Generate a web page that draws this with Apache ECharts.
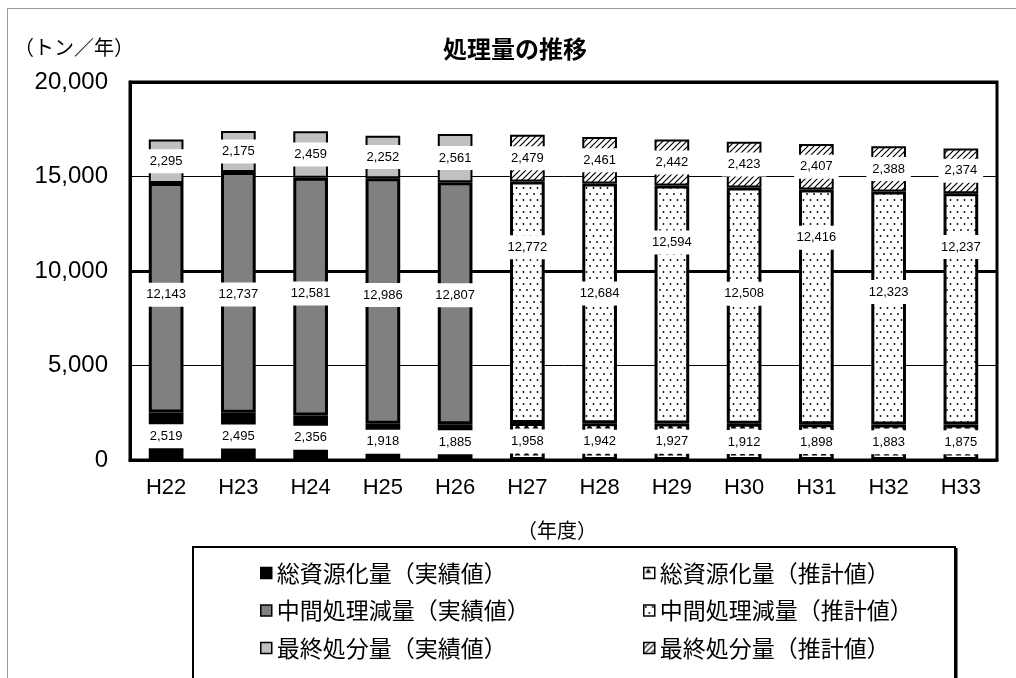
<!DOCTYPE html>
<html>
<head>
<meta charset="utf-8">
<script src="https://cdn.jsdelivr.net/npm/echarts@6/dist/echarts.min.js"></script>
<style>
  html, body { margin: 0; padding: 0; background: #fff; }
  #chart { width: 1016px; height: 678px; }
</style>
</head>
<body>
<div id="chart"></div>
<script>
// Fiscal years (Heisei); H22–H26 are actual results, H27 onward are estimates
const years = ['H22', 'H23', 'H24', 'H25', 'H26', 'H27', 'H28', 'H29', 'H30', 'H31', 'H32', 'H33'];
const actualYearCount = 5;

// Amounts in tonnes per year
const recycling = [2519, 2495, 2356, 1918, 1885, 1958, 1942, 1927, 1912, 1898, 1883, 1875];       // 総資源化量
const reduction = [12143, 12737, 12581, 12986, 12807, 12772, 12684, 12594, 12508, 12416, 12323, 12237]; // 中間処理減量
const landfill = [2295, 2175, 2459, 2252, 2561, 2479, 2461, 2442, 2423, 2407, 2388, 2374];        // 最終処分量

const seriesNames = {
  recycling: ['総資源化量（実績値）', '総資源化量（推計値）'],
  reduction: ['中間処理減量（実績値）', '中間処理減量（推計値）'],
  landfill: ['最終処分量（実績値）', '最終処分量（推計値）']
};

// vertical nudges (px) for the 中間処理減量 labels so neighbouring labels stagger
const reductionLabelShift = [-3, 2, -3, -6, -8, -55, -10, -62, -12, -69, -16, -62];

const JP = '"Noto Sans CJK JP", sans-serif';
const NUM = '"Liberation Sans", Arial, sans-serif';

// small repeating fill tiles for the estimate bars
function tile(w, h, draw) {
  const c = document.createElement('canvas');
  c.width = w; c.height = h;
  const g = c.getContext('2d');
  g.fillStyle = '#fff';
  g.fillRect(0, 0, w, h);
  g.fillStyle = '#000';
  g.strokeStyle = '#000';
  draw(g);
  return { image: c, repeat: 'repeat' };
}
const triangleFill = tile(9, 9, g => {
  g.beginPath(); g.moveTo(4.5, 1); g.lineTo(1.5, 5.5); g.lineTo(7.5, 5.5); g.closePath(); g.fill();
});
const dotFill = tile(7, 12, g => {
  g.beginPath(); g.arc(2, 2, 0.9, 0, Math.PI * 2); g.fill();
  g.beginPath(); g.arc(5.5, 8, 0.9, 0, Math.PI * 2); g.fill();
});
const hatchFill = tile(6, 6, g => {
  g.lineWidth = 1.2;
  g.beginPath();
  g.moveTo(0, 6); g.lineTo(6, 0);
  g.moveTo(-1, 1); g.lineTo(1, -1);
  g.moveTo(5, 7); g.lineTo(7, 5);
  g.stroke();
});

const isActual = i => i < actualYearCount;
const pick = (arr, actual) => arr.map((v, i) => (isActual(i) === actual ? v : '-'));

const valueLabel = {
  show: true,
  position: 'inside',
  color: '#000',
  fontFamily: NUM,
  fontSize: 13,
  backgroundColor: '#fff',
  padding: [6, 6, 5, 6],
  formatter: p => Number(p.value).toLocaleString('en-US')
};

function barSeries(name, values, fill, borderWidth, shifts) {
  return {
    name: name,
    type: 'bar',
    stack: 'total',
    barWidth: '48%',
    itemStyle: { color: fill, borderColor: '#000', borderWidth: borderWidth },
    label: valueLabel,
    emphasis: { disabled: true },
    data: values.map((v, i) => shifts
      ? { value: v, label: { offset: [0, shifts[i]] } }
      : v)
  };
}

const series = [
  barSeries(seriesNames.recycling[0], pick(recycling, true), '#000000', 3),
  barSeries(seriesNames.recycling[1], pick(recycling, false), triangleFill, 3),
  barSeries(seriesNames.reduction[0], pick(reduction, true), '#808080', 3, reductionLabelShift),
  barSeries(seriesNames.reduction[1], pick(reduction, false), dotFill, 3, reductionLabelShift),
  barSeries(seriesNames.landfill[0], pick(landfill, true), '#c0c0c0', 2),
  barSeries(seriesNames.landfill[1], pick(landfill, false), hatchFill, 2)
];

const legendBase = {
  orient: 'vertical',
  top: 556,
  icon: 'rect',
  itemWidth: 11,
  itemHeight: 11,
  itemGap: 13.5,
  selectedMode: false,
  itemStyle: { borderColor: '#000', borderWidth: 1.5 },
  textStyle: { fontFamily: JP, fontSize: 23, lineHeight: 24, color: '#000' }
};

const chart = echarts.init(document.getElementById('chart'), null, { renderer: 'canvas' });
chart.setOption({
  animation: false,
  backgroundColor: '#fff',
  title: {
    text: '処理量の推移',
    left: 438,
    top: 32,
    textStyle: { fontFamily: JP, fontSize: 24, fontWeight: 'bold', color: '#000' }
  },
  grid: {
    left: 130, right: 19, top: 82, bottom: 218,
    show: true, borderColor: '#000', borderWidth: 3, backgroundColor: 'transparent'
  },
  xAxis: {
    type: 'category',
    data: years,
    axisLine: { lineStyle: { color: '#000', width: 3 } },
    axisTick: { inside: true, length: 6, lineStyle: { color: '#000', width: 2 } },
    axisLabel: { color: '#000', fontFamily: NUM, fontSize: 22, margin: 17 }
  },
  yAxis: [
    {
      type: 'value', min: 0, max: 20000, interval: 5000,
      axisLine: { show: true, lineStyle: { color: '#000', width: 3 } },
      axisTick: { show: false },
      axisLabel: {
        color: '#000', fontFamily: NUM, fontSize: 24, margin: 22,
        formatter: v => v.toLocaleString('en-US')
      },
      splitLine: { lineStyle: { color: '#000', width: 1 } }
    },
    {
      // heavier rule every 10,000 t
      type: 'value', min: 0, max: 20000, interval: 10000, position: 'left',
      axisLine: { show: false }, axisTick: { show: false }, axisLabel: { show: false },
      splitLine: { lineStyle: { color: '#000', width: 3 } }
    }
  ],
  legend: [
    Object.assign({}, legendBase, {
      left: 255,
      data: [seriesNames.recycling[0], seriesNames.reduction[0], seriesNames.landfill[0]]
    }),
    Object.assign({}, legendBase, {
      left: 638,
      data: [seriesNames.recycling[1], seriesNames.reduction[1], seriesNames.landfill[1]]
    })
  ],
  graphic: [
    { type: 'rect', silent: true, z: 0,
      shape: { x: 7.5, y: 8.5, width: 1100, height: 1000 },
      style: { fill: 'none', stroke: '#9a9a9a', lineWidth: 1 } },
    { type: 'rect', silent: true,
      shape: { x: 193, y: 547, width: 762, height: 300 },
      style: { fill: 'none', stroke: '#000', lineWidth: 2 } },
    { type: 'line', silent: true,
      shape: { x1: 956.5, y1: 548, x2: 956.5, y2: 700 },
      style: { stroke: '#000', lineWidth: 2 } },
    { type: 'text', silent: true, x: 74, y: 47,
      style: { text: '（トン／年）', fontFamily: JP, fontSize: 20, fill: '#000',
               align: 'center', verticalAlign: 'middle' } },
    { type: 'text', silent: true, x: 557, y: 530,
      style: { text: '（年度）', fontFamily: JP, fontSize: 20, fill: '#000',
               align: 'center', verticalAlign: 'middle' } }
  ],
  series: series
});
</script>
</body>
</html>
